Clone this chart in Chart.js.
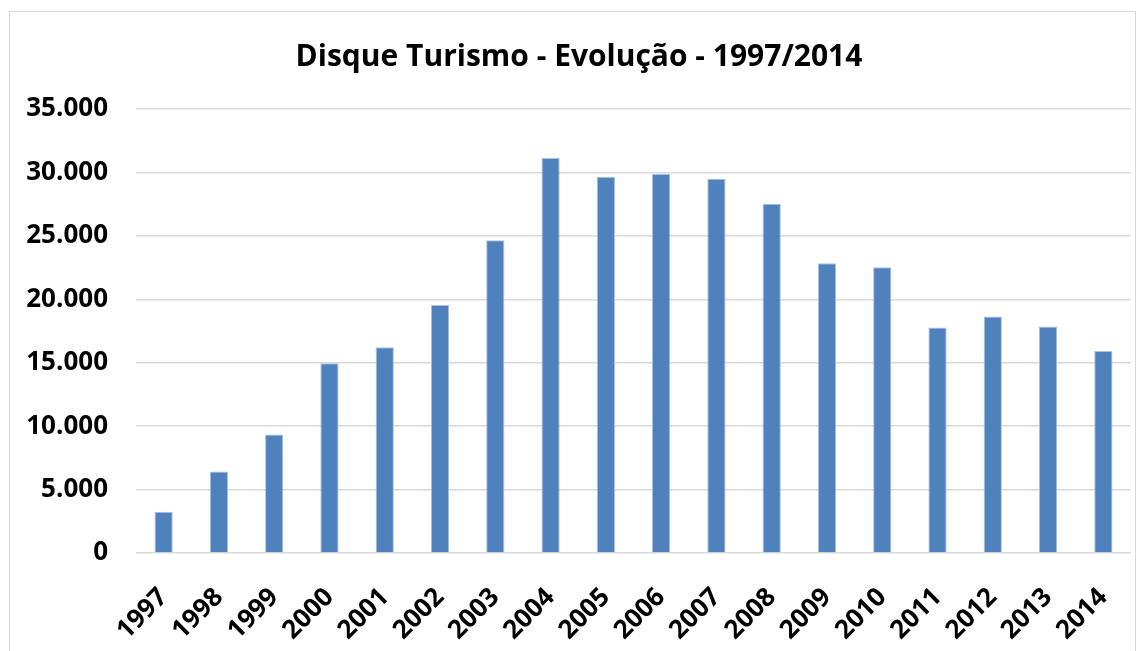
<!DOCTYPE html>
<html>
<head>
<meta charset="utf-8">
<script src="https://cdn.jsdelivr.net/npm/chart.js@4"></script>
<style>
  html, body { margin: 0; padding: 0; background: #fff; }
  #wrap { width: 1145px; height: 651px; }
</style>
</head>
<body>
<div id="wrap"><canvas id="grafico"></canvas></div>
<script>
// dados
const anos = ['1997', '1998', '1999', '2000', '2001', '2002', '2003', '2004', '2005',
              '2006', '2007', '2008', '2009', '2010', '2011', '2012', '2013', '2014'];
const ligacoes = [3260, 6420, 9340, 14950, 16210, 19550, 24660, 31140, 29660,
                  29870, 29500, 27530, 22850, 22530, 17770, 18640, 17850, 15920];
const titulo = 'Disque Turismo - Evolução - 1997/2014';

// formato 35.000
function milhar(v) {
    return String(v).replace(/\B(?=(\d{3})+(?!\d))/g, '.');
}

// moldura cinza em volta do gráfico
const moldura = {
    id: 'moldura',
    beforeDraw(chart) {
        const c = chart.ctx;
        c.save();
        c.fillStyle = '#ffffff';
        c.fillRect(0, 0, chart.width, chart.height);
        c.strokeStyle = '#d9d9d9';
        c.lineWidth = 1;
        c.strokeRect(9.5, 11.5, 1126, 700);
        c.restore();
    }
};

const ctx = document.getElementById('grafico').getContext('2d');
new Chart(ctx, {
    type: 'bar',
    data: {
        labels: anos,
        datasets: [{
            data: ligacoes,
            backgroundColor: '#4f81bd',
            borderColor: '#a9c1e0',
            borderWidth: { top: 1, left: 1, right: 1, bottom: 0 },
            barPercentage: 0.33,
            categoryPercentage: 1
        }]
    },
    options: {
        responsive: true,
        maintainAspectRatio: false,
        animation: false,
        layout: {
            padding: { top: 39, left: 27, right: 14, bottom: 1 }
        },
        plugins: {
            legend: { display: false },
            tooltip: { enabled: false },
            title: {
                display: true,
                text: titulo,
                color: '#000',
                font: { family: 'Open Sans', size: 30, weight: 'bold' },
                padding: { top: 0, bottom: 34 }
            }
        },
        scales: {
            y: {
                min: 0,
                max: 35000,
                ticks: {
                    stepSize: 5000,
                    color: '#000',
                    padding: 28,
                    font: { family: 'Open Sans', size: 26, weight: 'bold' },
                    callback: (v) => milhar(v)
                },
                grid: { color: '#d9d9d9', lineWidth: 1.5, drawTicks: false },
                border: { display: false },
                afterFit: (scale) => {
                    scale.width = 109;
                }
            },
            x: {
                ticks: {
                    color: '#000',
                    minRotation: 45,
                    maxRotation: 45,
                    padding: 29,
                    autoSkip: false,
                    font: { family: 'Open Sans', size: 26, weight: 'bold' }
                },
                grid: { display: false, drawTicks: false },
                border: { display: false },
                // os rótulos inclinados não devem empurrar a área do gráfico
                afterFit: (scale) => {
                    scale.paddingLeft = 0;
                    scale.paddingRight = 0;
                    scale.height = 97;
                }
            }
        }
    },
    plugins: [moldura]
});
</script>
</body>
</html>
